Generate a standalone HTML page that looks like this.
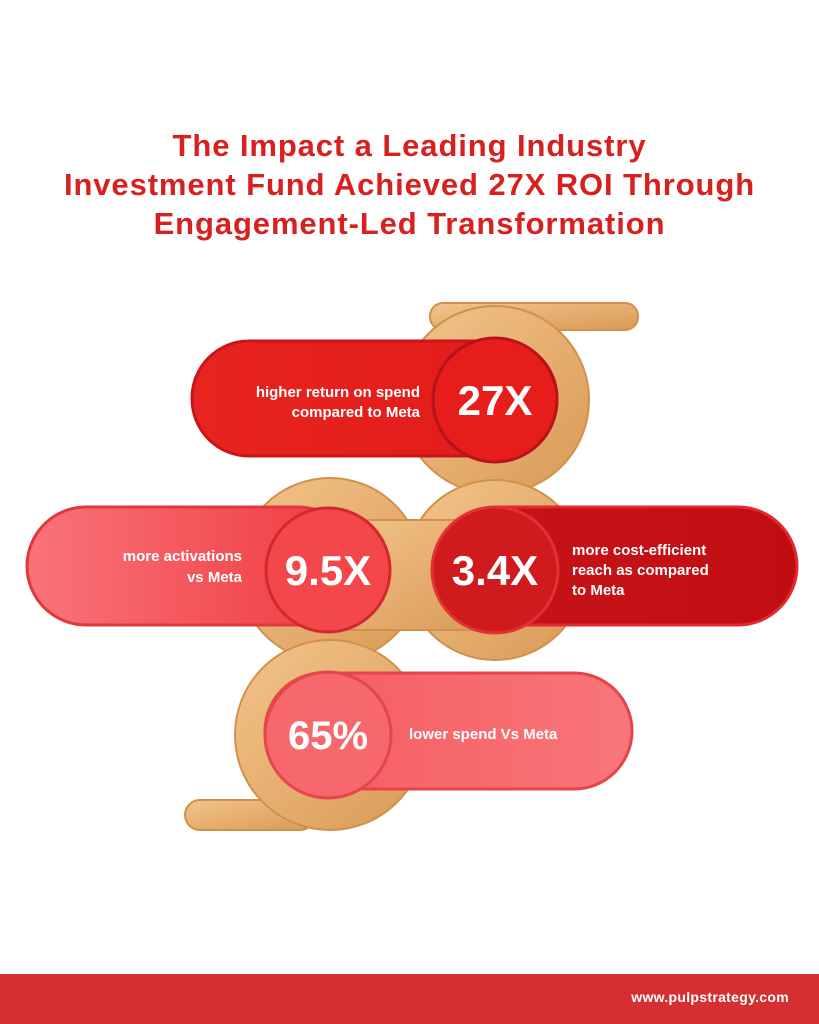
<!DOCTYPE html>
<html><head><meta charset="utf-8"><style>
html,body{margin:0;padding:0;background:#fff;}
body{width:819px;height:1024px;position:relative;overflow:hidden;font-family:"Liberation Sans",sans-serif;}
.title{position:absolute;left:0;top:126px;width:819px;text-align:center;color:#d8211f;font-weight:bold;font-size:31px;letter-spacing:0.9px;line-height:39px;}
.footer{position:absolute;left:0;top:974px;width:819px;height:50px;background:#d62f31;}
.footer span{position:absolute;right:30px;top:15px;color:#fff;font-weight:bold;font-size:14px;letter-spacing:0.3px;}
svg{position:absolute;left:0;top:0;}
</style></head><body>
<div class="title">The Impact a Leading Industry<br>Investment Fund Achieved 27X ROI Through<br>Engagement-Led Transformation</div>
<svg width="819" height="974">
<defs>
<linearGradient id="tan" x1="0" y1="0" x2="1" y2="1"><stop offset="0" stop-color="#f3c48b"/><stop offset="1" stop-color="#d99a55"/></linearGradient>
<linearGradient id="g1" x1="0" x2="1"><stop offset="0" stop-color="#e82420"/><stop offset="1" stop-color="#e01a18"/></linearGradient>
<linearGradient id="g2" x1="0" x2="1"><stop offset="0" stop-color="#f8747a"/><stop offset="1" stop-color="#ef3a3e"/></linearGradient>
<linearGradient id="g3" x1="0" x2="1"><stop offset="0" stop-color="#c7151a"/><stop offset="1" stop-color="#c10d12"/></linearGradient>
<linearGradient id="g4" x1="0" x2="1"><stop offset="0" stop-color="#f45a5e"/><stop offset="1" stop-color="#f87679"/></linearGradient>
</defs>
<g fill="url(#tan)" stroke="#d1904c" stroke-width="2">
<rect x="430" y="303" width="208" height="27" rx="13"/>
<rect x="185" y="800" width="130" height="30" rx="15"/>
<circle cx="495" cy="400" r="94"/>
<circle cx="330" cy="570" r="92"/>
<circle cx="495" cy="570" r="90"/>
<circle cx="330" cy="735" r="95"/>
<rect x="330" y="520" width="165" height="110"/>
</g>
<g>
<rect x="192" y="341" width="365" height="115" rx="57" fill="url(#g1)" stroke="#c8141a" stroke-width="3"/>
<circle cx="495" cy="400" r="62" fill="#e71d1c" stroke="#b8121a" stroke-width="3"/>
<text x="495" y="415" text-anchor="middle" fill="#fff" font-weight="bold" font-size="42">27X</text>
<text x="420" y="397" text-anchor="end" fill="#fff" font-weight="bold" font-size="15">higher return on spend</text>
<text x="420" y="417" text-anchor="end" fill="#fff" font-weight="bold" font-size="15">compared to Meta</text>
</g>
<g>
<rect x="27" y="507" width="330" height="118" rx="59" fill="url(#g2)" stroke="#e0383c" stroke-width="3"/>
<circle cx="328" cy="570" r="62" fill="#f4474b" stroke="#d3282e" stroke-width="3"/>
<text x="328" y="585" text-anchor="middle" fill="#fff" font-weight="bold" font-size="42">9.5X</text>
<text x="242" y="561" text-anchor="end" fill="#fff" font-weight="bold" font-size="15">more activations</text>
<text x="242" y="582" text-anchor="end" fill="#fff" font-weight="bold" font-size="15">vs Meta</text>
</g>
<g>
<rect x="440" y="507" width="357" height="118" rx="59" fill="url(#g3)" stroke="#e02a2e" stroke-width="3"/>
<circle cx="495" cy="570" r="63" fill="#cf1a1e" stroke="#e53034" stroke-width="3"/>
<text x="495" y="585" text-anchor="middle" fill="#fff" font-weight="bold" font-size="42">3.4X</text>
<text x="572" y="555" fill="#fff" font-weight="bold" font-size="15">more cost-efficient</text>
<text x="572" y="575" fill="#fff" font-weight="bold" font-size="15">reach as compared</text>
<text x="572" y="595" fill="#fff" font-weight="bold" font-size="15">to Meta</text>
</g>
<g>
<rect x="265" y="673" width="367" height="116" rx="58" fill="url(#g4)" stroke="#e7444a" stroke-width="3"/>
<circle cx="328" cy="735" r="63" fill="#f6686c" stroke="#e5464b" stroke-width="3"/>
<text x="328" y="749" text-anchor="middle" fill="#fff" font-weight="bold" font-size="40">65%</text>
<text x="409" y="739" fill="#fff" font-weight="bold" font-size="15">lower spend Vs Meta</text>
</g>
</svg>
<div class="footer"><span>www.pulpstrategy.com</span></div>
</body></html>
